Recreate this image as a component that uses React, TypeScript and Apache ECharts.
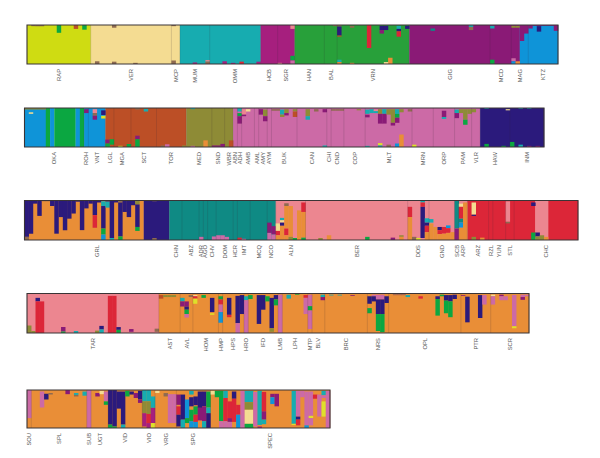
import React, { useEffect, useRef } from "react";
import * as echarts from "echarts";

// Ancestry clusters
const L = 0, C = 1, T = 2, M = 3, G = 4, P = 5, B = 6, E = 7, R = 8, O = 9, K = 10, N = 11, A = 12, D = 13, S = 14, X = 15, Y = 16, W = 17;
const clusterColors = ["#cfdc12", "#f4dc92", "#17acb0", "#a61f7e", "#28a03a", "#8a1a76", "#0f94d8", "#0ba741", "#bc4f26", "#8e8b36", "#cc6aa6", "#2b1a7c", "#e98e37", "#0f8a84", "#ec8690", "#dc2638", "#dfe02a", "#8f6a50"];

// Populations: [name, individuals]
const pops1: [string, number][] = [["RAP", 15], ["VER", 19], ["MCP", 2], ["MUM", 7], ["OMM", 12], ["HCB", 4], ["SGR", 4], ["HAN", 7], ["BAL", 3], ["VRN", 17], ["GIG", 19], ["MCD", 5], ["MAG", 4], ["KTZ", 7]];
const pops2: [string, number][] = [["OKA", 14], ["ROH", 1], ["VNT", 4], ["LGL", 2], ["MGA", 4], ["SCT", 6], ["TOR", 7], ["MED", 6], ["SND", 3], ["WBR", 2], ["ABN", 1], ["ADH", 1], ["AMB", 3], ["AML", 1], ["AMY", 2], ["AYM", 1], ["BUK", 6], ["CAN", 7], ["CHI", 1], ["CND", 3], ["COP", 5], ["MLT", 11], ["MRN", 5], ["ORP", 5], ["PAM", 4], ["VLR", 2], ["HAW", 7], ["INM", 8]];
const pops3: [string, number][] = [["GRL", 34], ["CHN", 3], ["ABZ", 4], ["ADR", 1], ["AGO", 1], ["CHV", 2], ["DOM", 4], ["HCR", 1], ["IMT", 3], ["MCQ", 4], ["NCO", 2], ["ALN", 7], ["BER", 24], ["DDS", 5], ["GND", 6], ["SCB", 1], ["ARP", 2], ["ARZ", 5], ["RZL", 1], ["YUN", 3], ["STL", 2], ["CHC", 15]];
const pops4: [string, number][] = [["TAR", 31], ["AST", 5], ["AVL", 3], ["HOM", 6], ["HMP", 1], ["HPS", 5], ["HRO", 1], ["IFD", 7], ["LMB", 1], ["LPH", 6], ["MTP", 1], ["BLV", 3], ["BRC", 10], ["NRS", 5], ["OPL", 17], ["PTR", 7], ["SCR", 9]];
const pops5: [string, number][] = [["SOU", 1], ["SPL", 13], ["SUB", 1], ["UGT", 4], ["VID", 8], ["VIO", 3], ["VRG", 5], ["SPG", 8], ["SPEC", 28]];

// Main cluster runs: [cluster, individuals]
const base1 = [[L, 15], [C, 21], [T, 19], [M, 8], [G, 27], [P, 26], [B, 9]];
const base2 = [[B, 5], [E, 1], [B, 1], [E, 5], [B, 1], [E, 1], [B, 5], [R, 19], [O, 11], [K, 58], [N, 15]];
const base3 = [[A, 28], [N, 6], [D, 25], [S, 45], [X, 16], [S, 3], [X, 7]];
const base4 = [[S, 31], [A, 87]];
const base5 = [[A, 71]];

// Admixed parts: [individual, cluster, from %, to %] counted from the top
const mix1 = [
  [1, W, 0, 3], [2, W, 0, 3], [3, W, 0, 3], [7, E, 0, 20], [11, R, 0, 10], [13, E, 0, 12], [20, W, 0, 7], [20, W, 94, 100], [16, W, 93, 100], [25, W, 97, 100], [34, W, 0, 3], [34, W, 91, 100],
  [39, M, 96, 100], [42, S, 90, 94], [42, W, 94, 100], [46, M, 93, 100], [48, M, 97, 100], [50, X, 94, 100], [54, M, 94, 100],
  [62, S, 0, 10], [62, E, 79, 91], [62, K, 91, 100], [59, S, 97, 100],
  [72, W, 0, 3], [73, W, 0, 4], [73, N, 4, 27], [73, R, 27, 30], [73, T, 89, 95], [73, A, 95, 100], [76, W, 2, 7], [76, A, 97, 100], [80, X, 0, 59], [83, N, 2, 13], [83, P, 13, 22], [84, N, 2, 13], [85, A, 84, 100], [84, C, 95, 100], [87, T, 2, 10], [87, N, 10, 16], [87, X, 16, 30], [89, N, 2, 10],
  [95, D, 9, 15], [104, T, 0, 5], [104, W, 5, 13], [109, T, 2, 9], [109, E, 89, 100], [114, O, 2, 7], [115, O, 2, 7], [114, K, 85, 93], [114, B, 93, 100], [115, A, 93, 100],
  [116, P, 0, 41], [117, P, 0, 22], [118, P, 0, 9], [119, P, 0, 2], [120, P, 0, 3], [120, N, 3, 17], [121, P, 0, 2], [122, P, 0, 2], [123, P, 0, 2], [124, P, 0, 15],
];
const mix2 = [
  [0, O, 0, 4], [1, O, 0, 4], [2, O, 0, 4], [3, O, 0, 4], [4, O, 0, 4], [1, C, 11, 15], [14, P, 3, 13], [16, S, 3, 13], [16, W, 13, 20], [16, P, 20, 30], [18, N, 6, 18], [18, Y, 20, 27],
  [19, P, 81, 91], [19, E, 91, 100], [20, E, 80, 94], [22, Y, 97, 100], [24, E, 92, 100], [26, W, 0, 4], [26, P, 71, 80], [26, E, 80, 100], [28, T, 2, 9], [32, W, 96, 100], [33, K, 93, 100], [37, O, 96, 100],
  [39, T, 0, 3], [39, K, 97, 100], [42, A, 83, 100], [44, P, 96, 100], [45, P, 96, 100], [46, P, 92, 100], [48, R, 83, 100],
  [50, T, 0, 9], [50, E, 13, 21], [50, P, 21, 40], [51, S, 3, 17], [51, P, 17, 21], [52, C, 3, 9], [55, P, 3, 17], [56, O, 4, 21], [56, P, 21, 34], [58, W, 3, 7], [59, W, 3, 7],
  [60, T, 4, 17], [60, O, 17, 23], [61, O, 3, 13], [61, P, 13, 19], [63, O, 3, 9], [63, R, 9, 23], [66, O, 3, 21], [66, T, 21, 30], [68, W, 3, 9], [70, P, 3, 11], [70, T, 96, 100], [72, W, 3, 7], [73, W, 3, 7], [74, W, 3, 7], [78, O, 3, 6],
  [80, T, 4, 15], [80, P, 17, 24], [80, T, 97, 100], [81, T, 3, 13], [82, S, 4, 8], [82, T, 8, 13], [83, O, 3, 15], [83, P, 15, 40], [83, Y, 90, 96], [83, T, 96, 100], [84, T, 3, 15], [84, P, 15, 40], [85, O, 3, 17], [85, W, 94, 100], [86, O, 3, 38], [86, P, 38, 45], [87, T, 3, 15], [87, E, 15, 25], [87, P, 25, 38], [87, B, 91, 100], [88, O, 3, 11], [88, A, 68, 100], [90, W, 3, 9], [91, Y, 94, 100],
  [98, P, 7, 23], [98, T, 23, 28], [101, T, 4, 13], [101, P, 13, 26], [102, O, 3, 13], [103, O, 3, 30], [103, E, 30, 43], [104, O, 3, 15], [105, O, 3, 11],
  [108, T, 0, 2], [108, E, 92, 100], [112, E, 97, 100], [113, C, 3, 6], [114, E, 87, 100], [116, T, 0, 2], [116, T, 94, 100], [118, T, 0, 2], [118, P, 97, 100], [120, P, 97, 100],
];
const mix3 = [
  [0, N, 0, 92], [0, W, 92, 100], [1, N, 0, 84], [2, N, 0, 8], [3, N, 0, 39], [4, W, 0, 2], [5, W, 0, 2], [6, N, 0, 14], [7, N, 0, 84], [8, N, 0, 42], [9, N, 0, 75], [10, N, 0, 46], [11, N, 0, 33], [12, N, 0, 3], [13, N, 0, 75], [14, N, 0, 20], [15, N, 0, 8], [16, N, 0, 37], [16, X, 37, 69], [17, N, 0, 5],
  [18, T, 2, 14], [18, N, 14, 71], [18, E, 71, 86], [18, B, 86, 100], [19, N, 0, 3], [19, T, 3, 18], [20, N, 0, 95], [20, T, 95, 100], [21, N, 0, 5], [22, W, 0, 5], [22, N, 5, 91], [22, E, 91, 100], [23, N, 0, 29], [24, N, 0, 42], [25, N, 0, 12], [26, O, 0, 10], [26, N, 10, 67], [26, E, 67, 77],
  [30, W, 0, 2], [30, W, 95, 100], [41, K, 92, 100], [44, K, 91, 100], [45, K, 88, 100], [46, K, 88, 100], [47, K, 92, 100], [50, X, 94, 100], [51, K, 97, 100],
  [57, P, 56, 82], [57, K, 82, 100], [58, P, 65, 86], [58, K, 86, 100],
  [59, C, 58, 77], [59, X, 77, 88], [59, A, 88, 100], [60, T, 44, 50], [60, C, 50, 56], [60, N, 56, 64], [60, A, 64, 100], [61, W, 7, 14], [61, A, 14, 71], [61, X, 71, 88], [61, A, 88, 100], [62, A, 14, 92], [62, O, 92, 100], [63, E, 95, 100], [64, A, 25, 100], [65, X, 5, 29], [65, A, 29, 94], [65, E, 94, 100],
  [69, O, 95, 100], [71, A, 88, 100], [80, E, 92, 100], [86, P, 94, 100], [88, O, 88, 92], [88, A, 92, 100],
  [90, X, 16, 42], [90, A, 42, 100], [91, W, 92, 100], [92, Y, 95, 100], [93, T, 0, 5], [93, X, 5, 16], [93, N, 16, 95], [94, T, 45, 56], [94, N, 56, 64], [94, X, 64, 80], [94, A, 80, 100], [95, T, 47, 56], [95, A, 58, 100], [96, A, 67, 100], [97, N, 67, 75], [97, X, 75, 85], [97, A, 85, 100], [98, X, 67, 84], [98, A, 84, 100], [99, B, 63, 70], [99, X, 70, 82], [99, A, 82, 100], [100, A, 80, 100],
  [101, D, 0, 71], [101, P, 71, 100], [102, C, 8, 16], [102, X, 16, 46], [102, D, 46, 56], [102, B, 56, 69], [102, A, 69, 100], [103, A, 5, 100],
  [105, C, 5, 36], [105, N, 36, 39], [105, O, 92, 100], [107, A, 94, 100], [113, S, 2, 54], [113, W, 54, 58], [119, N, 5, 14], [119, E, 81, 100], [120, N, 81, 91], [120, O, 91, 100], [121, O, 88, 100], [122, A, 92, 100],
];
const mix4 = [
  [0, O, 81, 100], [1, O, 95, 100], [2, N, 11, 20], [2, X, 20, 100], [3, X, 20, 100], [8, P, 85, 96], [8, E, 96, 100], [11, T, 95, 100], [16, O, 94, 100], [17, N, 82, 91], [17, T, 91, 100], [19, X, 6, 100], [20, X, 6, 100], [21, N, 85, 92], [21, E, 92, 100], [24, P, 90, 97], [30, W, 89, 97],
  [31, R, 4, 13], [32, O, 4, 9], [33, O, 4, 9], [34, O, 4, 9], [36, T, 11, 20], [36, P, 20, 33], [37, P, 20, 33], [37, N, 33, 41], [37, E, 41, 52], [37, K, 52, 61], [38, W, 4, 9], [39, C, 4, 7], [39, X, 7, 13], [39, Y, 13, 26], [41, E, 4, 11], [43, N, 11, 47], [43, Y, 50, 54],
  [45, E, 7, 15], [45, X, 15, 28], [45, K, 28, 47], [45, B, 47, 74], [47, N, 11, 54], [47, X, 54, 60], [49, N, 6, 75], [49, K, 75, 100], [50, N, 4, 52], [51, T, 7, 17], [51, K, 17, 100], [52, E, 4, 14], [54, N, 4, 77], [55, N, 4, 41], [56, E, 7, 20], [57, N, 11, 88], [57, O, 88, 97], [58, N, 4, 15], [58, E, 15, 30],
  [59, K, 3, 100], [61, T, 3, 13], [63, E, 0, 3], [65, X, 4, 11], [65, K, 11, 52], [66, K, 3, 32], [66, E, 32, 43], [66, K, 43, 90], [69, T, 3, 9], [69, P, 9, 17], [71, T, 3, 5], [73, T, 3, 5], [76, P, 4, 6],
  [80, N, 7, 26], [80, E, 37, 50], [81, K, 3, 7], [81, N, 7, 20], [82, K, 3, 15], [82, N, 15, 52], [82, E, 52, 95], [83, K, 3, 15], [83, N, 15, 52], [83, E, 52, 98], [84, N, 7, 24], [86, N, 3, 4], [87, N, 3, 4], [88, N, 3, 4], [89, T, 4, 9], [92, X, 7, 13],
  [96, N, 7, 14], [96, E, 14, 56], [97, E, 3, 7], [98, N, 4, 18], [98, E, 18, 50], [99, N, 4, 20], [99, E, 20, 60], [100, N, 3, 14], [102, P, 4, 6], [103, N, 8, 73], [106, N, 4, 62], [107, K, 4, 28], [109, C, 3, 7], [109, K, 7, 28], [111, P, 3, 7], [111, K, 7, 17], [112, K, 7, 17], [114, K, 4, 83], [114, Y, 83, 88], [116, K, 3, 9], [116, P, 9, 16], [117, K, 3, 7],
];
const mix5 = [
  [0, K, 0, 74], [3, K, 4, 46], [4, N, 10, 25], [5, W, 8, 12], [9, P, 0, 11], [11, T, 8, 13], [11, W, 13, 17], [13, T, 4, 15], [14, K, 0, 100], [16, P, 8, 17], [17, C, 2, 11], [18, K, 4, 30], [18, E, 30, 39],
  [19, N, 0, 91], [19, E, 91, 100], [20, N, 0, 96], [20, E, 96, 100], [21, N, 4, 49], [22, N, 4, 91], [22, T, 91, 100], [23, E, 2, 17], [24, N, 4, 12], [25, P, 8, 21], [26, N, 2, 25], [26, P, 25, 34],
  [27, T, 0, 30], [27, O, 30, 61], [27, M, 61, 96], [28, T, 0, 30], [28, O, 30, 63], [28, X, 63, 87], [28, M, 87, 100], [29, T, 17, 47], [29, M, 47, 87], [29, Y, 87, 100], [30, C, 2, 8], [32, W, 8, 17], [33, K, 11, 87], [34, K, 11, 87],
  [35, P, 12, 39], [35, X, 43, 65], [35, N, 65, 96], [36, N, 12, 78], [36, T, 78, 100], [37, B, 25, 74], [37, E, 74, 87], [38, T, 2, 12], [38, N, 19, 43], [38, E, 52, 82], [38, B, 82, 100], [39, N, 17, 40], [39, E, 43, 65], [39, X, 65, 84], [39, B, 84, 100], [40, N, 4, 47], [40, P, 47, 80], [41, N, 4, 43], [41, P, 43, 82], [41, T, 82, 100], [42, E, 4, 46], [42, T, 46, 61], [42, N, 61, 100],
  [43, C, 2, 12], [44, E, 2, 19], [45, E, 2, 82], [45, K, 82, 100], [46, T, 2, 21], [46, X, 21, 82], [46, K, 82, 100], [47, X, 30, 74], [47, P, 74, 84], [47, K, 84, 100], [48, N, 4, 23], [48, X, 23, 84], [49, X, 39, 65], [49, B, 65, 100], [50, K, 2, 100],
  [51, T, 2, 32], [51, O, 32, 52], [51, C, 52, 89], [51, E, 89, 100], [52, T, 2, 32], [52, O, 32, 52], [52, C, 52, 89], [52, E, 89, 100], [53, K, 5, 96], [54, T, 2, 92], [54, M, 96, 100], [55, X, 5, 56], [55, P, 56, 78], [55, T, 78, 90], [57, P, 10, 19], [57, B, 19, 37], [58, P, 10, 43],
  [62, T, 2, 89], [62, Y, 89, 92], [63, K, 2, 70], [63, N, 70, 78], [63, X, 78, 93], [64, K, 2, 19], [65, K, 4, 93], [65, B, 93, 100], [66, K, 4, 68], [66, Y, 68, 74], [66, K, 74, 93], [67, X, 12, 23], [68, K, 12, 70], [69, T, 2, 14], [69, K, 14, 21], [69, Y, 30, 70], [70, K, 2, 100],
];

const rows = [
  { pops: pops1, base: base1, mix: mix1 },
  { pops: pops2, base: base2, mix: mix2 },
  { pops: pops3, base: base3, mix: mix3 },
  { pops: pops4, base: base4, mix: mix4 },
  { pops: pops5, base: base5, mix: mix5 },
];
const frames = [
  { left: 27, top: 25, width: 531, height: 39 },
  { left: 24.5, top: 108, width: 519.5, height: 39 },
  { left: 24.5, top: 200.5, width: 553.5, height: 39.5 },
  { left: 27, top: 293.5, width: 502, height: 39.5 },
  { left: 27, top: 390, width: 303, height: 38 },
];

function buildOption() {
  const grid: any[] = [], xAxis: any[] = [], yAxis: any[] = [], series: any[] = [];
  rows.forEach((row, r) => {
    const total = row.pops.reduce((s, p) => s + p[1], 0);
    const names: Record<string, string> = {};
    const centers: number[] = [];
    const bounds: number[] = [];
    let at = 0;
    row.pops.forEach(([name, n], idx) => {
      const c = at + n / 2;
      names[String(c)] = name;
      centers.push(c);
      at += n;
      if (idx < row.pops.length - 1) bounds.push(at);
    });
    grid.push({ ...frames[r], containLabel: false });
    xAxis.push({
      gridIndex: r, type: "value", min: 0, max: total,
      splitLine: { show: false }, axisLine: { show: false }, axisTick: { show: false },
      axisLabel: {
        customValues: centers, formatter: (v: number) => names[String(v)] ?? "",
        rotate: 90, fontSize: 5.8, color: "#555", margin: 5, fontFamily: "Liberation Sans",
        hideOverlap: false, showMinLabel: true, showMaxLabel: true,
      },
    });
    yAxis.push({ gridIndex: r, type: "value", min: 0, max: 100, inverse: true, show: false });

    const segs: number[][] = [];
    let s = 0;
    row.base.forEach(([c, n]) => { segs.push([s, s + n, 0, 100, c]); s += n; });
    row.mix.forEach(([i, c, f, t]) => segs.push([i, i + 1, f, t, c]));
    series.push({
      type: "custom", xAxisIndex: r, yAxisIndex: r, silent: true, clip: false, data: segs,
      renderItem: (_: any, api: any) => {
        const p0 = api.coord([api.value(0), api.value(2)]);
        const p1 = api.coord([api.value(1), api.value(3)]);
        return { type: "rect", shape: { x: p0[0], y: p0[1], width: p1[0] - p0[0] + 0.2, height: p1[1] - p0[1] }, style: { fill: clusterColors[api.value(4)], stroke: null } };
      },
    });
    series.push({
      type: "custom", xAxisIndex: r, yAxisIndex: r, silent: true, data: bounds.map((b) => [b]),
      renderItem: (_: any, api: any) => {
        const a = api.coord([api.value(0), 0]);
        const b = api.coord([api.value(0), 100]);
        return { type: "line", shape: { x1: a[0], y1: a[1], x2: b[0], y2: b[1] }, style: { stroke: "rgba(50,40,50,0.22)", lineWidth: 0.7 } };
      },
    });
    series.push({
      type: "custom", xAxisIndex: r, yAxisIndex: r, silent: true, clip: false, data: [[0, total]],
      renderItem: (_: any, api: any) => {
        const a = api.coord([api.value(0), 0]);
        const b = api.coord([api.value(1), 100]);
        return { type: "rect", shape: { x: a[0], y: a[1], width: b[0] - a[0], height: b[1] - a[1] }, style: { fill: "none", stroke: "#3a3436", lineWidth: 1.1 } };
      },
    });
  });
  return { animation: false, backgroundColor: "#fff", grid, xAxis, yAxis, series };
}

export default function App() {
  const ref = useRef<HTMLDivElement>(null);
  useEffect(() => {
    const chart = echarts.init(ref.current!, undefined, { renderer: "svg" });
    chart.setOption(buildOption() as any);
    return () => chart.dispose();
  }, []);
  return <div ref={ref} style={{ position: "absolute", left: 0, top: 0, width: 600, height: 458 }} />;
}
